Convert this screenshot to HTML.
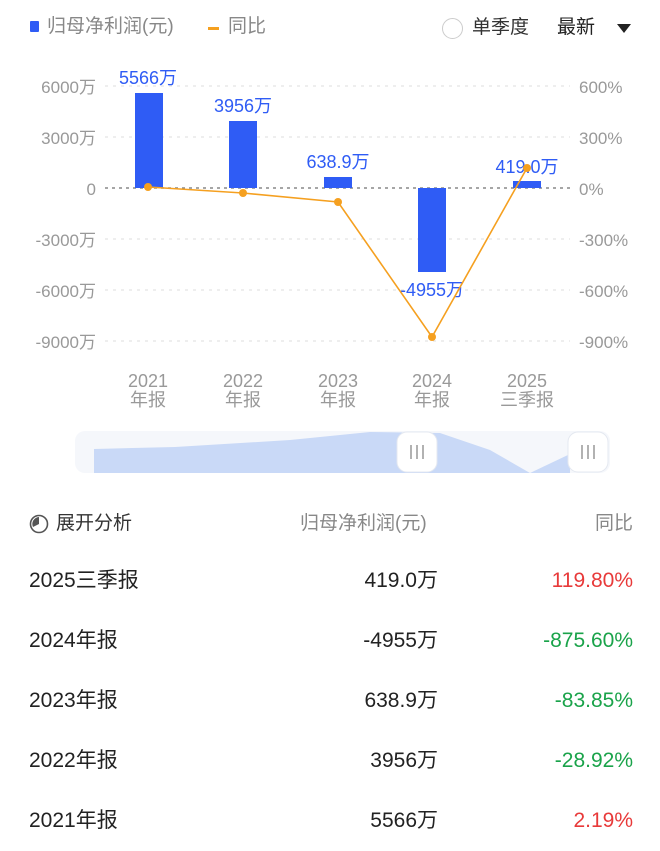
<!DOCTYPE html>
<html><head><meta charset="utf-8"><style>
body{margin:0;width:660px;height:851px;background:#fff;font-family:"Liberation Sans","Noto Sans CJK SC",sans-serif;position:relative;overflow:hidden}
.a{position:absolute;white-space:nowrap;line-height:26px}
.row{position:absolute;left:0;width:660px;height:26px;font-size:21px;color:#222}
.row span{position:absolute;top:0;line-height:26px}
</style></head><body>
<div class="a" style="left:30px;top:21px;width:9px;height:11px;background:#2f5cf5;border-radius:1px"></div>
<div class="a" style="left:47px;top:14px;font-size:19px;color:#888">归母净利润(元)</div>
<div class="a" style="left:208px;top:27px;width:11px;height:3px;background:#f5a020"></div>
<div class="a" style="left:228px;top:14px;font-size:19px;color:#888">同比</div>
<div class="a" style="left:442px;top:18px;width:19px;height:19px;border:1px solid #ccc;border-radius:50%"></div>
<div class="a" style="left:472px;top:15px;font-size:19px;color:#333">单季度</div>
<div class="a" style="left:557px;top:15px;font-size:19px;color:#222">最新</div>
<div class="a" style="left:617px;top:24px;width:0;height:0;border-left:7px solid transparent;border-right:7px solid transparent;border-top:9px solid #222"></div>
<svg class="a" style="left:0;top:0" width="660" height="480">
<g stroke="#ddd" stroke-dasharray="3,5" stroke-width="1">
<line x1="105" x2="570" y1="86" y2="86"/><line x1="105" x2="570" y1="137" y2="137"/>
<line x1="105" x2="570" y1="239" y2="239"/><line x1="105" x2="570" y1="290" y2="290"/><line x1="105" x2="570" y1="341" y2="341"/>
</g>
<line x1="105" x2="570" y1="188" y2="188" stroke="#888" stroke-dasharray="3,4" stroke-width="1.5"/>
<g font-size="17" fill="#999" text-anchor="end">
<text x="96" y="93">6000万</text><text x="96" y="144">3000万</text><text x="96" y="195">0</text>
<text x="96" y="246">-3000万</text><text x="96" y="297">-6000万</text><text x="96" y="348">-9000万</text>
</g>
<g font-size="17" fill="#999">
<text x="579" y="93">600%</text><text x="579" y="144">300%</text><text x="579" y="195">0%</text>
<text x="579" y="246">-300%</text><text x="579" y="297">-600%</text><text x="579" y="348">-900%</text>
</g>
<g fill="#2f5cf5">
<rect x="135" y="93" width="28" height="95"/><rect x="229" y="121" width="28" height="67"/>
<rect x="324" y="177" width="28" height="11"/><rect x="418" y="188" width="28" height="84"/>
<rect x="513" y="181" width="28" height="7"/>
</g>
<g font-size="18" fill="#2f5cf5" text-anchor="middle">
<text x="148" y="84">5566万</text><text x="243" y="112">3956万</text><text x="338" y="168">638.9万</text>
<text x="432" y="296">-4955万</text><text x="527" y="173">419.0万</text>
</g>
<polyline fill="none" stroke="#f5a020" stroke-width="1.6" points="148,187 243,193 338,202 432,337 527,168"/>
<g fill="#f5a020"><circle cx="148" cy="187" r="4"/><circle cx="243" cy="193" r="4"/><circle cx="338" cy="202" r="4"/><circle cx="432" cy="337" r="4"/><circle cx="527" cy="168" r="4"/></g>
<g font-size="18" fill="#999" text-anchor="middle">
<text x="148" y="387">2021</text><text x="148" y="406">年报</text>
<text x="243" y="387">2022</text><text x="243" y="406">年报</text>
<text x="338" y="387">2023</text><text x="338" y="406">年报</text>
<text x="432" y="387">2024</text><text x="432" y="406">年报</text>
<text x="527" y="387">2025</text><text x="527" y="406">三季报</text>
</g>
<rect x="75" y="431" width="535" height="42" rx="10" fill="#f5f7fb"/>
<path d="M94,449 L175,447 L290,440 L370,432 L440,433 L490,450 L530,473 L570,454 L570,473 L94,473Z" fill="#c9d9f7"/>
<rect x="397" y="432" width="40" height="40" rx="10" fill="#fff" stroke="#e4e8f0"/>
<rect x="568" y="432" width="40" height="40" rx="10" fill="#fff" stroke="#e4e8f0"/>
<g stroke="#888" stroke-width="1.3"><line x1="411" x2="411" y1="445" y2="459"/><line x1="417" x2="417" y1="445" y2="459"/><line x1="423" x2="423" y1="445" y2="459"/>
<line x1="582" x2="582" y1="445" y2="459"/><line x1="588" x2="588" y1="445" y2="459"/><line x1="594" x2="594" y1="445" y2="459"/></g>
</svg>
<svg class="a" style="left:29px;top:514px" width="20" height="20"><circle cx="10" cy="10" r="8.5" fill="none" stroke="#555" stroke-width="1.6"/><path d="M10,10 L10,3 A7,7 0 0,0 4,13 Z" fill="#555"/></svg>
<div class="a" style="left:56px;top:511px;font-size:19px;color:#333">展开分析</div>
<div class="a" style="left:300px;top:511px;font-size:19px;color:#888">归母净利润(元)</div>
<div class="a" style="right:27px;top:511px;font-size:19px;color:#888">同比</div>
<div class="row" style="top:568px"><span style="left:29px">2025三季报</span><span style="right:222px">419.0万</span><span style="right:27px;color:#e83a3a">119.80%</span></div>
<div class="row" style="top:628px"><span style="left:29px">2024年报</span><span style="right:222px">-4955万</span><span style="right:27px;color:#1aa34a">-875.60%</span></div>
<div class="row" style="top:688px"><span style="left:29px">2023年报</span><span style="right:222px">638.9万</span><span style="right:27px;color:#1aa34a">-83.85%</span></div>
<div class="row" style="top:748px"><span style="left:29px">2022年报</span><span style="right:222px">3956万</span><span style="right:27px;color:#1aa34a">-28.92%</span></div>
<div class="row" style="top:808px"><span style="left:29px">2021年报</span><span style="right:222px">5566万</span><span style="right:27px;color:#e83a3a">2.19%</span></div>
</body></html>
